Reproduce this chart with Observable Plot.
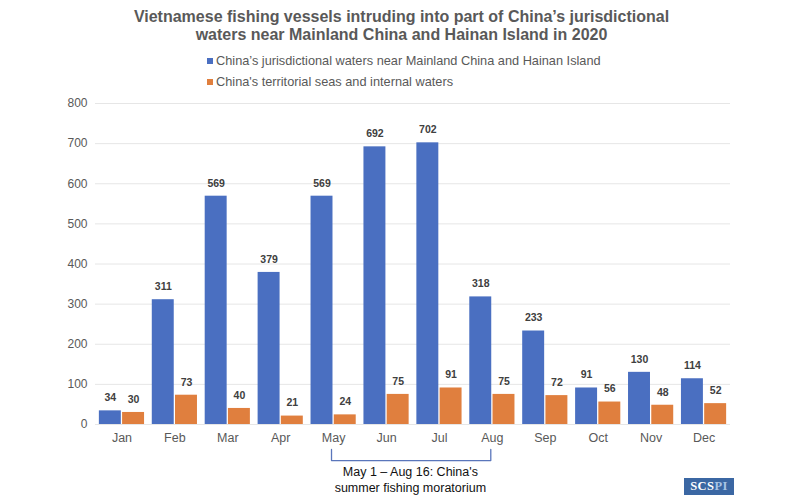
<!DOCTYPE html>
<html>
<head>
<meta charset="utf-8">
<script src="https://cdn.jsdelivr.net/npm/d3@7"></script>
<script src="https://cdn.jsdelivr.net/npm/@observablehq/plot@0.6"></script>
<style>
html,body{margin:0;padding:0;background:#fff;}
#wrap{position:relative;width:800px;height:500px;overflow:hidden;font-family:"Liberation Sans",Arial,sans-serif;}
#title{position:absolute;left:0;width:803px;top:8px;text-align:center;font-weight:bold;font-size:16px;line-height:18px;color:#595959;}
.leg{position:absolute;left:207px;font-size:12.75px;line-height:16px;color:#595959;white-space:nowrap;}
.leg i{display:inline-block;width:6px;height:6px;margin-right:3px;vertical-align:1px;}
#logo{position:absolute;left:684px;top:478px;width:50px;height:17px;background:#3b67a3;color:#fff;font:bold 12.5px/17px "Liberation Serif",serif;text-align:center;letter-spacing:.4px;}
#logo span{color:#a9c4e6;}
#chart{position:absolute;left:0;top:0;}
</style>
</head>
<body>
<div id="wrap">
<div id="chart"></div>
<div id="title">Vietnamese fishing vessels intruding into part of China’s jurisdictional<br>waters near Mainland China and Hainan Island in 2020</div>
<div class="leg" style="top:53px"><i style="background:#4a6fc1"></i>China’s jurisdictional waters near Mainland China and Hainan Island</div>
<div class="leg" style="top:74px"><i style="background:#e07f3e"></i>China's territorial seas and internal waters</div>
<div id="logo">SCS<span>PI</span></div>
</div>
<script>
const months = ["Jan","Feb","Mar","Apr","May","Jun","Jul","Aug","Sep","Oct","Nov","Dec"];
const jurisdictional = [34,311,569,379,569,692,702,318,233,91,130,114];
const territorial = [30,73,40,21,24,75,91,75,72,56,48,52];
const yTicks = [0,100,200,300,400,500,600,700,800];
const blue = "#4a6fc1", orange = "#e07f3e";
const bracket = [[3.96,-62],[3.96,-90],[6.97,-90],[6.97,-62]];
const noteLines = ["May 1 – Aug 16: China's","summer fishing moratorium"];

const w = 0.415, gap = 0.012;
const idx = months.map((_, i) => i);
const chart = Plot.plot({
  width: 800, height: 500,
  marginLeft: 95, marginRight: 70, marginTop: 103, marginBottom: 76,
  style: {fontFamily: '"Liberation Sans",Arial,sans-serif', background: "transparent", overflow: "visible"},
  x: {domain: [-0.5, 11.5]},
  y: {domain: [0, 800]},
  marks: [
    Plot.ruleY(yTicks, {stroke: "#e6e6e6", strokeWidth: 1}),
    Plot.rectY(idx, {x1: i => i - w - gap, x2: i => i - gap, y1: 0, y2: i => jurisdictional[i], fill: blue}),
    Plot.rectY(idx, {x1: i => i + gap, x2: i => i + gap + w, y1: 0, y2: i => territorial[i], fill: orange}),
    Plot.text(idx, {x: i => i - gap - w / 2, y: i => jurisdictional[i], text: i => String(jurisdictional[i]), dy: -13, fontSize: 10.5, fontWeight: "bold", fill: "#404040"}),
    Plot.text(idx, {x: i => i + gap + w / 2, y: i => territorial[i], text: i => String(territorial[i]), dy: -13, fontSize: 10.5, fontWeight: "bold", fill: "#404040"}),
    Plot.axisY({ticks: yTicks, tickSize: 0, tickPadding: 8, label: null, fontSize: 12, color: "#595959"}),
    Plot.axisX({ticks: idx, tickFormat: i => months[i], tickSize: 0, tickPadding: 9, label: null, fontSize: 12.5, color: "#595959"}),
    Plot.line(bracket, {x: d => d[0], y: d => d[1], stroke: "#5a76bb", strokeWidth: 1.3, curve: "linear"}),
    Plot.text(noteLines, {x: 5.45, y: (d, i) => -119.5 - i * 39.5, text: d => d, fontSize: 12.5, fill: "#111"})
  ]
});
document.getElementById("chart").appendChild(chart);
</script>
</body>
</html>
